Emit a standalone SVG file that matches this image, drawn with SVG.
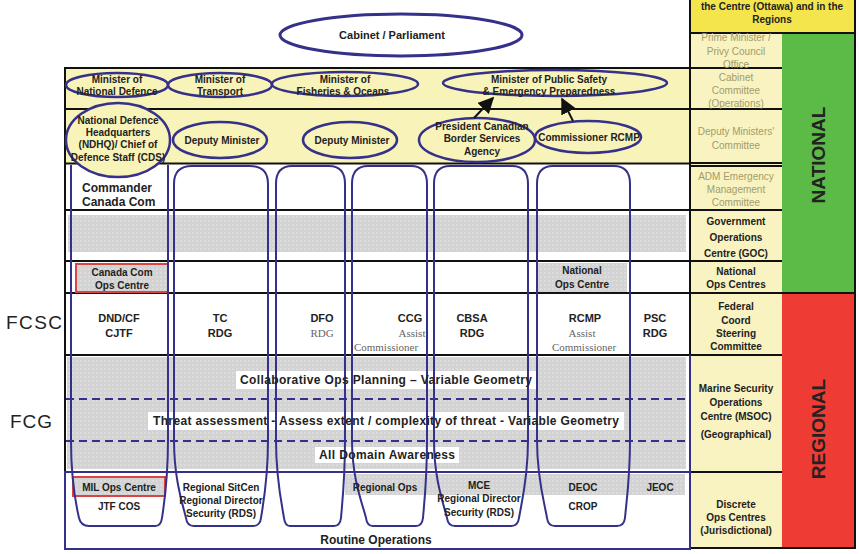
<svg xmlns="http://www.w3.org/2000/svg" width="859" height="554" viewBox="0 0 859 554">
<style>
text{font-family:"Liberation Sans",Arial,sans-serif;text-anchor:middle;dominant-baseline:central;fill:#222}
.b{font-weight:bold;font-size:10px}
.b11{font-weight:bold;font-size:11px}
.b12{font-weight:bold;font-size:12px}
.f{font-size:10px;fill:#a39c6c}
.s{font-family:"Liberation Serif","Times New Roman",serif;font-size:11px;fill:#666}
.ell{fill:#f8f3b8;stroke:#35318a;stroke-width:2.5}
.col{fill:none;stroke:#35318a;stroke-width:2}
.hl{stroke:#111;stroke-width:2}
.nl{stroke:#35318a;stroke-width:2;fill:none}
.dash{stroke:#35318a;stroke-width:2;stroke-dasharray:8 5}
.gray{fill:url(#dots)}
.redbox{fill:url(#dots);stroke:#d94444;stroke-width:2}
</style>
<defs>
<pattern id="dots" width="4" height="4" patternUnits="userSpaceOnUse">
<rect width="4" height="4" fill="#d3d3d3"/>
<circle cx="1" cy="1" r="0.8" fill="#e8e8e8"/>
</pattern>
<marker id="ah" viewBox="0 0 10 10" refX="9" refY="5" markerWidth="16" markerHeight="16" markerUnits="userSpaceOnUse" orient="auto">
<path d="M0,0 L10,5 L0,10 Z" fill="#111"/>
</marker>
</defs>
<rect width="859" height="554" fill="#fff"/>

<!-- backgrounds -->
<g id="backgrounds">
<rect x="65" y="68" width="625" height="96" fill="#f8f3b8"/>
<rect x="690" y="0" width="165" height="33" fill="#f4e54c"/>
<rect x="690" y="33" width="92" height="515" fill="#f8f3c0"/>
<rect x="782" y="33" width="73" height="260" fill="#5cbb46"/>
<rect x="782" y="293" width="73" height="255" fill="#ee3b33"/>
<rect class="gray" x="68" y="215" width="618" height="37"/>
<rect class="gray" x="67" y="357" width="619" height="112"/>
<rect class="gray" x="345" y="474" width="340" height="21"/>
<rect x="236" y="371" width="300" height="18" fill="#fff"/>
<rect x="148" y="412" width="476" height="18" fill="#fff"/>
<rect x="315" y="447" width="144" height="16" fill="#fff"/>
</g>

<!-- grid lines -->
<g id="grid">
<line class="hl" x1="690" y1="33" x2="856" y2="33"/>
<line class="hl" x1="65" y1="68" x2="782" y2="68"/>
<line class="hl" x1="65" y1="109" x2="782" y2="109"/>
<line class="hl" x1="65" y1="163.5" x2="690" y2="163.5" stroke-width="2.5"/>
<line class="hl" x1="690" y1="163" x2="782" y2="163"/>
<line class="hl" x1="690" y1="166" x2="782" y2="166"/>
<line class="hl" x1="65" y1="210" x2="782" y2="210"/>
<line class="hl" x1="65" y1="261" x2="782" y2="261"/>
<line class="hl" x1="65" y1="293" x2="856" y2="293"/>
<line class="hl" x1="65" y1="355" x2="782" y2="355"/>
<line class="hl" x1="690" y1="472" x2="782" y2="472"/>
<line class="hl" x1="690" y1="548" x2="856" y2="548"/>
<line class="hl" x1="65" y1="67" x2="65" y2="472"/>
<line class="hl" x1="690" y1="0" x2="690" y2="355"/>
<line class="hl" x1="855" y1="0" x2="855" y2="549"/>
<line class="nl" x1="690" y1="355" x2="690" y2="549"/>
<rect class="nl" x="65" y="472" width="625" height="77"/>
<line class="dash" x1="66" y1="399" x2="690" y2="399"/>
<line class="dash" x1="66" y1="441" x2="690" y2="441"/>
</g>

<!-- right column labels -->
<g id="right-labels">
<text class="b" x="772" y="6">the Centre (Ottawa) and in the</text>
<text class="b" x="772" y="19">Regions</text>
<text class="f" x="736" y="37">Prime Minister /</text>
<text class="f" x="736" y="51">Privy Council</text>
<text class="f" x="736" y="64">Office</text>
<text class="f" x="736" y="77">Cabinet</text>
<text class="f" x="736" y="90">Committee</text>
<text class="f" x="736" y="103">(Operations)</text>
<text class="f" x="736" y="131">Deputy Ministers'</text>
<text class="f" x="736" y="145">Committee</text>
<text class="f" x="736" y="176">ADM Emergency</text>
<text class="f" x="736" y="189">Management</text>
<text class="f" x="736" y="202">Committee</text>
<text class="b" x="736" y="221" font-size="10.5">Government</text>
<text class="b" x="736" y="237" font-size="10.5">Operations</text>
<text class="b" x="736" y="253" font-size="10.5">Centre (GOC)</text>
<text class="b" x="736" y="271">National</text>
<text class="b" x="736" y="284">Ops Centres</text>
<text class="b" x="736" y="306">Federal</text>
<text class="b" x="736" y="320">Coord</text>
<text class="b" x="736" y="333">Steering</text>
<text class="b" x="736" y="346">Committee</text>
<text class="b" x="736" y="388">Marine Security</text>
<text class="b" x="736" y="402">Operations</text>
<text class="b" x="736" y="416">Centre (MSOC)</text>
<text class="b" x="736" y="434">(Geographical)</text>
<text class="b" x="736" y="504">Discrete</text>
<text class="b" x="736" y="517">Ops Centres</text>
<text class="b" x="736" y="530">(Jurisdictional)</text>
<text font-weight="bold" font-size="19" transform="translate(818,155) rotate(-90)">NATIONAL</text>
<text font-weight="bold" font-size="19" transform="translate(818,429) rotate(-90)">REGIONAL</text>
</g>

<!-- left labels -->
<g id="left-labels">
<text x="34" y="322" font-size="19" textLength="56" fill="#333">FCSC</text>
<text x="31" y="421" font-size="19" textLength="42" fill="#333">FCG</text>
</g>

<!-- cells in ops rows -->
<g id="canada-com-ops">
<rect class="redbox" x="76" y="264" width="92" height="28"/>
<text class="b" x="122" y="272">Canada Com</text>
<text class="b" x="122" y="285">Ops Centre</text>
</g>
<g id="national-ops">
<rect class="gray" x="537" y="263" width="90" height="29"/>
<text class="b" x="582" y="270">National</text>
<text class="b" x="582" y="284">Ops Centre</text>
</g>
<g id="mil-ops">
<rect class="redbox" x="73" y="477" width="92" height="19"/>
<text class="b" x="119" y="487">MIL Ops Centre</text>
<text class="b" x="119" y="506">JTF COS</text>
</g>

<!-- columns -->
<g id="columns">
<path class="col" d="M71,165 V440 C71,480 76,505 79,518 Q81,526 89,526 H155 Q161,526 162,518 C164,505 168,480 168,440 V165"/>
<path class="col" d="M174,184 Q174,166 192,166 H250 Q268,166 268,184 V440 C268,480 263,505 261,518 Q260,526 253,526 H194 Q187,526 186,518 C183,505 174,480 174,440 Z"/>
<path class="col" d="M276,184 Q276,166 292,166 H329 Q345,166 345,184 V440 C345,480 342,505 341,518 Q340,526 334,526 H290 Q285,526 284,518 C282,505 276,480 276,440 Z"/>
<path class="col" d="M352,184 Q352,166 368,166 H411 Q427,166 427,184 V440 C427,480 424,505 423,518 Q422,526 416,526 H373 Q367,526 366,518 C363,505 352,480 352,440 Z"/>
<path class="col" d="M434,184 Q434,166 450,166 H512 Q528,166 528,184 V440 C528,480 521,505 519,518 Q518,526 511,526 H455 Q448,526 447,518 C444,505 434,480 434,440 Z"/>
<path class="col" d="M537,184 Q537,166 553,166 H614 Q630,166 630,184 V440 C630,480 626,505 625,518 Q624,526 617,526 H555 Q548,526 547,518 C545,505 537,480 537,440 Z"/>
</g>

<!-- cabinet -->
<g id="cabinet">
<ellipse cx="401" cy="35" rx="121" ry="21" fill="#fff" stroke="#35318a" stroke-width="3"/>
<text class="b11" x="392" y="35">Cabinet / Parliament</text>
</g>

<!-- ministers -->
<g id="min-defence">
<ellipse class="ell" cx="117" cy="85" rx="51" ry="12"/>
<text class="b" x="117" y="79">Minister of</text>
<text class="b" x="117" y="91">National Defence</text>
</g>
<g id="min-transport">
<ellipse class="ell" cx="220" cy="85" rx="52" ry="12"/>
<text class="b" x="220" y="79">Minister of</text>
<text class="b" x="220" y="91">Transport</text>
</g>
<g id="min-fisheries">
<ellipse class="ell" cx="345" cy="84" rx="73" ry="12"/>
<text class="b" x="345" y="79">Minister of</text>
<text class="b" x="343" y="91">Fisheries &amp; Oceans</text>
</g>
<g id="min-public-safety">
<ellipse class="ell" cx="555" cy="83" rx="112" ry="13"/>
<text class="b" x="549" y="79">Minister of Public Safety</text>
<text class="b" x="549" y="91">&amp; Emergency Preparedness</text>
</g>

<!-- deputies -->
<g id="ndhq">
<ellipse class="ell" cx="118" cy="140" rx="52" ry="37"/>
<text class="b" x="118" y="120">National Defence</text>
<text class="b" x="118" y="132">Headquarters</text>
<text class="b" x="118" y="144">(NDHQ)/ Chief of</text>
<text class="b" x="118" y="157">Defence Staff (CDS)</text>
</g>
<g id="dm-transport">
<ellipse class="ell" cx="220" cy="140" rx="47" ry="18"/>
<text class="b" x="222" y="140">Deputy Minister</text>
</g>
<g id="dm-fisheries">
<ellipse class="ell" cx="350" cy="140" rx="47" ry="18"/>
<text class="b" x="352" y="140">Deputy Minister</text>
</g>
<g id="cbsa-president">
<ellipse class="ell" cx="477" cy="140" rx="58" ry="22"/>
<text class="b" x="482" y="126">President Canadian</text>
<text class="b" x="482" y="138">Border Services</text>
<text class="b" x="482" y="151">Agency</text>
</g>
<g id="rcmp-commissioner">
<ellipse class="ell" cx="588" cy="137" rx="53" ry="16"/>
<text class="b" x="589" y="137">Commissioner RCMP</text>
</g>

<!-- connectors -->
<g id="connectors">
<line x1="474" y1="118" x2="493" y2="98" stroke="#111" stroke-width="2" marker-end="url(#ah)"/>
<line x1="573" y1="121" x2="562" y2="99" stroke="#111" stroke-width="2" marker-end="url(#ah)"/>
</g>

<!-- commander -->
<g id="commander">
<text class="b12" x="82" y="188" style="text-anchor:start">Commander</text>
<text class="b12" x="82" y="202" style="text-anchor:start">Canada Com</text>
</g>

<!-- FCSC row -->
<g id="fcsc-dnd"><text class="b11" x="119" y="318">DND/CF</text><text class="b11" x="119" y="333">CJTF</text></g>
<g id="fcsc-tc"><text class="b11" x="220" y="318">TC</text><text class="b11" x="220" y="333">RDG</text></g>
<g id="fcsc-dfo"><text class="b11" x="322" y="318">DFO</text><text class="s" x="322" y="333">RDG</text></g>
<g id="fcsc-ccg"><text class="b11" x="410" y="318">CCG</text><text class="s" x="412" y="333">Assist</text><text class="s" x="386" y="347">Commissioner</text></g>
<g id="fcsc-cbsa"><text class="b11" x="472" y="318">CBSA</text><text class="b11" x="472" y="333">RDG</text></g>
<g id="fcsc-rcmp"><text class="b11" x="585" y="318">RCMP</text><text class="s" x="582" y="333">Assist</text><text class="s" x="584" y="347">Commissioner</text></g>
<g id="fcsc-psc"><text class="b11" x="655" y="318">PSC</text><text class="b11" x="655" y="333">RDG</text></g>

<!-- regional texts -->
<g id="fcg-texts">
<text class="b12" x="386" y="380" textLength="292">Collaborative Ops Planning – Variable Geometry</text>
<text class="b12" x="386" y="421" textLength="466">Threat assessment - Assess extent / complexity of threat - Variable Geometry</text>
<text class="b12" x="387" y="455" textLength="136">All Domain Awareness</text>
</g>

<!-- discrete ops -->
<g id="ops-tc"><text class="b" x="221" y="487">Regional SitCen</text><text class="b" x="221" y="500">Regional Director</text><text class="b" x="221" y="513">Security (RDS)</text></g>
<g id="ops-ccg"><text class="b" x="385" y="487">Regional Ops</text></g>
<g id="ops-cbsa"><text class="b" x="479" y="485">MCE</text><text class="b" x="479" y="498">Regional Director</text><text class="b" x="479" y="512">Security (RDS)</text></g>
<g id="ops-rcmp"><text class="b" x="583" y="487">DEOC</text><text class="b" x="583" y="506">CROP</text></g>
<g id="ops-psc"><text class="b" x="660" y="487">JEOC</text></g>
<g id="routine"><text class="b12" x="376" y="540">Routine Operations</text></g>
</svg>
